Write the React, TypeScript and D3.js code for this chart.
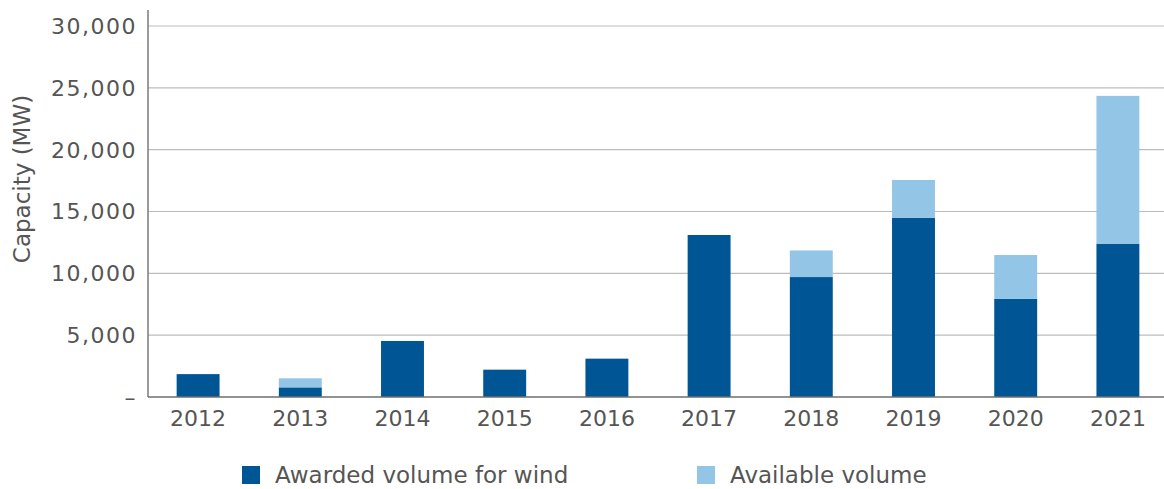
import React from "react";
import * as d3 from "d3";

const years = ["2012", "2013", "2014", "2015", "2016", "2017", "2018", "2019", "2020", "2021"];
const awarded = [1850, 780, 4530, 2210, 3100, 13100, 9700, 14500, 7930, 12400];
const available = [0, 730, 0, 0, 0, 0, 2150, 3050, 3550, 11950];
const yTicks = [0, 5000, 10000, 15000, 20000, 25000, 30000];
const seriesNames = ["Awarded volume for wind", "Available volume"];
const colors = ["#005595", "#93c6e6"];

const W = 1164;
const H = 489;
const FONT = "'DejaVu Sans', sans-serif";

export default function App() {
  const x = d3.scaleBand<string>().domain(years).range([147, 1169]).paddingInner(0.58).paddingOuter(0.29);
  const y = d3.scaleLinear().domain([0, 30000]).range([397, 26]);
  const fmt = (v: number) => (v === 0 ? "–" : d3.format(",")(v));
  const stacked = years.map((yr, i) => ({ yr, a: awarded[i], b: available[i] }));

  return (
    <svg width={W} height={H} style={{ position: "absolute", left: 0, top: 0, background: "#fff" }}>
      {yTicks.filter((t) => t > 0).map((t) => (
        <line key={t} x1={148} x2={W} y1={y(t)} y2={y(t)} stroke="#bdbdbd" strokeWidth={1.2} />
      ))}
      {stacked.map((d) => (
        <g key={d.yr}>
          <rect x={x(d.yr)} width={x.bandwidth()} y={y(d.a)} height={y(0) - y(d.a)} fill={colors[0]} />
          {d.b > 0 && (
            <rect x={x(d.yr)} width={x.bandwidth()} y={y(d.a + d.b)} height={y(d.a) - y(d.a + d.b)} fill={colors[1]} />
          )}
        </g>
      ))}
      <line x1={148} x2={148} y1={10} y2={397} stroke="#7a7a7a" strokeWidth={1.5} />
      <line x1={148} x2={W} y1={397} y2={397} stroke="#6e6e6e" strokeWidth={1.5} />
      {yTicks.map((t) => (
        <text key={t} x={137} y={y(t)} dy="0.36em" textAnchor="end" fontFamily={FONT} fontSize={22} letterSpacing={1.5} fill="#555">
          {fmt(t)}
        </text>
      ))}
      {years.map((yr) => (
        <text key={yr} x={(x(yr) as number) + x.bandwidth() / 2} y={426} textAnchor="middle" fontFamily={FONT} fontSize={22} fill="#555">
          {yr}
        </text>
      ))}
      <text transform="translate(30,179) rotate(-90)" textAnchor="middle" fontFamily={FONT} fontSize={23} fill="#555">
        Capacity (MW)
      </text>
      {seriesNames.map((n, i) => {
        const lx = i === 0 ? 242 : 697;
        return (
          <g key={n}>
            <rect x={lx} y={466} width={18} height={18} fill={colors[i]} />
            <text x={lx + 33} y={483} fontFamily={FONT} fontSize={23} fill="#555">
              {n}
            </text>
          </g>
        );
      })}
    </svg>
  );
}
